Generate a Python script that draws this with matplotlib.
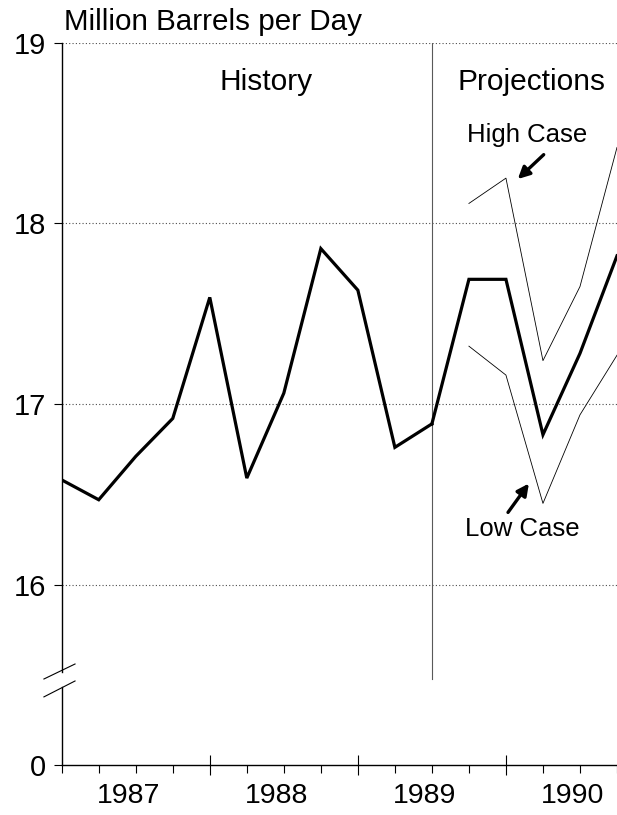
import matplotlib
matplotlib.use("Agg")
import matplotlib.pyplot as plt

plt.rcParams['font.family'] = ['Liberation Sans', 'DejaVu Sans']

# quarterly history, 1987 Q1 through 1989 Q3
hist_x = [1987.0, 1987.25, 1987.5, 1987.75, 1988.0, 1988.25, 1988.5, 1988.75,
          1989.0, 1989.25, 1989.5]
hist_y = [16.58, 16.47, 16.71, 16.92, 17.59, 16.59, 17.06, 17.86, 17.63, 16.76, 16.89]

# projections (base, high case, low case)
proj_x = [1989.5, 1989.75, 1990.0, 1990.25, 1990.5, 1990.75]
base_y = [16.89, 17.69, 17.69, 16.83, 17.28, 17.82]
case_x = [1989.75, 1990.0, 1990.25, 1990.5, 1990.75]
high_y = [18.11, 18.25, 17.24, 17.65, 18.42]
low_y = [17.32, 17.16, 16.45, 16.94, 17.27]

years = [1987, 1988, 1989, 1990]
# the bottom of the scale (drawn at 15) is labelled 0 because of the axis break
ytick_vals = [15, 16, 17, 18, 19]
ytick_labels = ['0', '16', '17', '18', '19']

fig = plt.figure(figsize=(6.17, 8.15), dpi=100)
ax = fig.add_axes([0.1, 0.0609, 0.9, 0.8868])
ax.set_xlim(1987.0, 1990.72)
ax.set_ylim(15, 19)

# dotted gridlines
for v in [16, 17, 18, 19]:
    ax.axhline(v, color='0.3', lw=0.8, ls=(0, (1, 2)), zorder=1)

ax.axvline(1989.5, ymin=0.12, ymax=1.0, color='0.35', lw=0.8, zorder=1)

ax.plot(hist_x, hist_y, color='black', lw=2.3, solid_joinstyle='miter', zorder=3)
ax.plot(proj_x, base_y, color='black', lw=2.3, solid_joinstyle='miter', zorder=3)
ax.plot(case_x, high_y, color='black', lw=0.6, zorder=3)
ax.plot(case_x, low_y, color='black', lw=0.6, zorder=3)

# spines
for s in ['top', 'right', 'left']:
    ax.spines[s].set_visible(False)
ax.spines['bottom'].set_linewidth(1.0)
ytr = ax.get_yaxis_transform()
ax.plot([0, 0], [15, 15.434], color='black', lw=1.0, transform=ytr, clip_on=False)
ax.plot([0, 0], [15.516, 19], color='black', lw=1.0, transform=ytr, clip_on=False)
# break marks
ax.plot([-0.032, 0.024], [15.478, 15.561], color='black', lw=0.8, transform=ytr, clip_on=False)
ax.plot([-0.032, 0.024], [15.379, 15.467], color='black', lw=0.8, transform=ytr, clip_on=False)

ax.set_yticks(ytick_vals)
ax.set_yticklabels(ytick_labels)
ax.tick_params(axis='y', length=6, width=0.8, labelsize=21, pad=5)

ax.set_xticks(years[1:])
ax.set_xticklabels([])
ax.set_xticks([y + q for y in years for q in [0, 0.25, 0.5, 0.75]], minor=True)
ax.tick_params(axis='x', which='major', direction='inout', length=14, width=0.8)
ax.tick_params(axis='x', which='minor', direction='out', length=6, width=0.8)

for yr in years:
    ax.annotate(str(yr), xy=(yr + 0.45, 0), xycoords=('data', 'axes fraction'),
                xytext=(0, -13), textcoords='offset points',
                ha='center', va='top', fontsize=20.5, annotation_clip=False)

fig.text(0.104, 0.963, 'Million Barrels per Day', fontsize=21.3, ha='left', va='baseline')

ax.text(1988.38, 18.78, 'History', fontsize=21.5, ha='center', va='center')
ax.text(1990.17, 18.78, 'Projections', fontsize=21.5, ha='center', va='center')

ax.text(1990.14, 18.49, 'High Case', fontsize=18.5, ha='center', va='center')
ax.annotate('', xy=(1990.08, 18.245), xytext=(1990.255, 18.38),
            arrowprops=dict(arrowstyle='-|>,head_width=0.35,head_length=0.7',
                            color='black', lw=2.4, shrinkA=0, shrinkB=0))
ax.text(1990.11, 16.31, 'Low Case', fontsize=18.5, ha='center', va='center')
ax.annotate('', xy=(1990.155, 16.56), xytext=(1990.014, 16.40),
            arrowprops=dict(arrowstyle='-|>,head_width=0.35,head_length=0.7',
                            color='black', lw=2.4, shrinkA=0, shrinkB=0))

fig.savefig('out.png', dpi=100)
